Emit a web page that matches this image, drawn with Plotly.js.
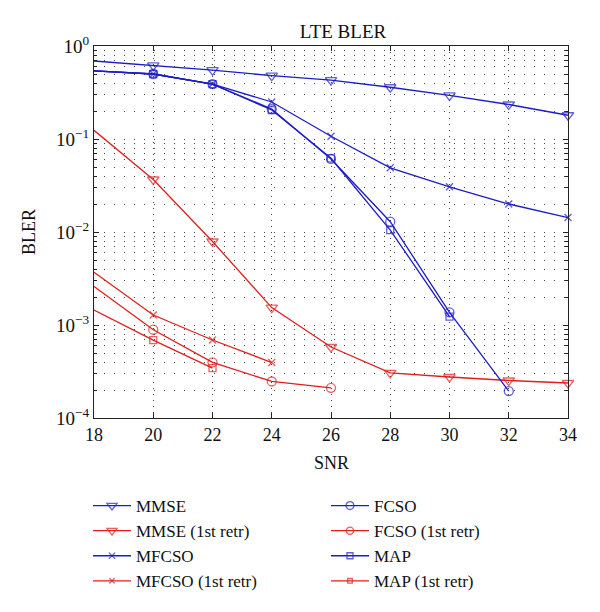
<!DOCTYPE html>
<html>
<head>
<meta charset="utf-8">
<script src="https://cdn.plot.ly/plotly-3.0.1.min.js"></script>
<style>html,body{margin:0;padding:0;background:#fff;}#chart{width:600px;height:612px;}</style>
</head>
<body>
<div id="chart"></div>
<script>
// ---- data ----
const snrMMSE = [18, 20, 22, 24, 26, 28, 30, 32, 34];
const bler_MMSE = [0.69, 0.62, 0.55, 0.48, 0.43, 0.36, 0.295, 0.235, 0.18];
const bler_MMSE_1st = [0.124, 0.0367, 0.0079, 0.00154, 0.00058, 0.000305, 0.000276, 0.000253, 0.000238];

const snrMFCSO = [18, 20, 22, 24, 26, 28, 30, 32, 34];
const bler_MFCSO = [0.54, 0.50, 0.39, 0.25, 0.107, 0.049, 0.0306, 0.020, 0.0143];
const snrMFCSO_1st = [18, 20, 22, 24];
const bler_MFCSO_1st = [0.0037, 0.00128, 0.00069, 0.000395];

const snrFCSO = [18, 20, 22, 24, 26, 28, 30, 32];
const bler_FCSO = [0.54, 0.50, 0.39, 0.21, 0.061, 0.0129, 0.00137, 0.000195];
const snrFCSO_1st = [18, 20, 22, 24, 26];
const bler_FCSO_1st = [0.0026, 0.00089, 0.000396, 0.000247, 0.000211];

const snrMAP = [18, 20, 22, 24, 26, 28, 30];
const bler_MAP = [0.54, 0.50, 0.39, 0.205, 0.062, 0.0105, 0.00123];
const snrMAP_1st = [18, 20, 22];
const bler_MAP_1st = [0.00145, 0.000687, 0.000344];

const xTickVals = [18, 20, 22, 24, 26, 28, 30, 32, 34];
const yTickVals = [1e-4, 1e-3, 1e-2, 1e-1, 1];
const yTickText = ['10<sup>−4</sup>', '10<sup>−3</sup>', '10<sup>−2</sup>', '10<sup>−1</sup>', '10<sup>0</sup>'];
const xTitle = 'SNR';
const yTitle = 'BLER';
const chartTitle = 'LTE BLER';

// ---- styling ----
const BLUE = '#1c1cc8';
const RED = '#e01e1e';
const FONT = 'Liberation Serif, Times New Roman, serif';

function mk(name, x, y, color, symbol, size, legend) {
  // hide the marker at the left edge (x = 18), as in the reference
  const sizes = x.map(v => (v === 18 ? 0 : size));
  return {
    type: 'scatter', mode: 'lines+markers', name: name, x: x, y: y,
    line: {color: color, width: 1.3},
    marker: {symbol: symbol, size: sizes, color: color,
             line: {color: color, width: 1.3}},
    legend: legend, hoverinfo: 'skip', cliponaxis: false
  };
}

const traces = [
  mk('MMSE', snrMMSE, bler_MMSE, BLUE, 'triangle-down-open', 10, 'legend'),
  mk('MMSE (1st retr)', snrMMSE, bler_MMSE_1st, RED, 'triangle-down-open', 10, 'legend'),
  mk('MFCSO', snrMFCSO, bler_MFCSO, BLUE, 'x-thin', 7, 'legend'),
  mk('MFCSO (1st retr)', snrMFCSO_1st, bler_MFCSO_1st, RED, 'x-thin', 7, 'legend'),
  mk('FCSO', snrFCSO, bler_FCSO, BLUE, 'circle-open', 9, 'legend2'),
  mk('FCSO (1st retr)', snrFCSO_1st, bler_FCSO_1st, RED, 'circle-open', 9, 'legend2'),
  mk('MAP', snrMAP, bler_MAP, BLUE, 'square-open', 7, 'legend2'),
  mk('MAP (1st retr)', snrMAP_1st, bler_MAP_1st, RED, 'square-open', 7, 'legend2')
];

const minorY = [];
for (let d = -4; d < 0; d++) for (let k = 2; k <= 9; k++) minorY.push(k * Math.pow(10, d));

const legendCommon = {
  orientation: 'v', yanchor: 'top', xanchor: 'left', xref: 'container', yref: 'container',
  font: {family: FONT, size: 17, color: '#111'},
  bgcolor: 'rgba(0,0,0,0)', borderwidth: 0, itemwidth: 38, tracegroupgap: 0
};

const layout = {
  width: 600, height: 612,
  margin: {l: 94, r: 32, t: 46, b: 194, autoexpand: false},
  paper_bgcolor: '#fff', plot_bgcolor: '#fff',
  font: {family: FONT, color: '#111'},
  showlegend: true,
  title: {text: chartTitle, x: 343 / 600, xanchor: 'center', y: 1 - 31 / 612, yanchor: 'middle',
          font: {family: FONT, size: 19, color: '#111'}},
  xaxis: {
    range: [18, 34], tickvals: xTickVals, ticks: 'inside', ticklen: 5, tickcolor: '#222',
    showline: true, linecolor: '#222', linewidth: 1, mirror: 'ticks', zeroline: false,
    showgrid: true, gridcolor: '#444', gridwidth: 1, griddash: '1px,5px', automargin: false,
    tickfont: {family: FONT, size: 18, color: '#111'}
  },
  yaxis: {
    type: 'log', range: [-4, 0], tickvals: yTickVals, ticktext: yTickText,
    ticks: 'inside', ticklen: 5, tickcolor: '#222', automargin: false,
    showline: true, linecolor: '#222', linewidth: 1, mirror: 'ticks', zeroline: false,
    showgrid: true, gridcolor: '#444', gridwidth: 1, griddash: '1px,9px',
    minor: {tickvals: minorY, ticks: 'inside', ticklen: 3, tickcolor: '#222',
            showgrid: true, gridcolor: '#444', gridwidth: 1, griddash: '1px,9px'},
    tickfont: {family: FONT, size: 19, color: '#111'}
  },
  annotations: [
    {text: xTitle, xref: 'paper', yref: 'paper', x: 0.5, y: -(463 - 418) / 372.5,
     xanchor: 'center', yanchor: 'middle', showarrow: false,
     font: {family: FONT, size: 18, color: '#111'}},
    {text: yTitle, xref: 'paper', yref: 'paper', x: -(94 - 29) / 474, y: 0.5, textangle: -90,
     xanchor: 'center', yanchor: 'middle', showarrow: false,
     font: {family: FONT, size: 18, color: '#111'}}
  ],
  legend: Object.assign({}, legendCommon, {x: 88 / 600, y: 1 - 488 / 612}),
  legend2: Object.assign({}, legendCommon, {x: 326 / 600, y: 1 - 488 / 612})
};

Plotly.newPlot('chart', traces, layout, {displayModeBar: false, staticPlot: true});
</script>
</body>
</html>
